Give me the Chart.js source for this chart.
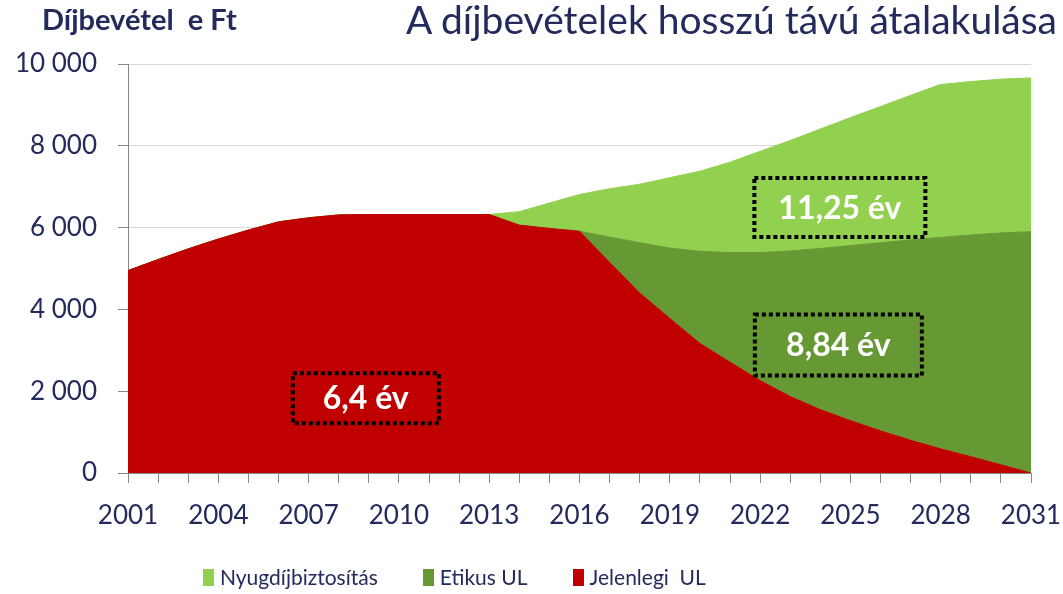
<!DOCTYPE html>
<html lang="hu">
<head>
<meta charset="utf-8">
<title>A díjbevételek hosszú távú átalakulása</title>
<script src="https://cdn.jsdelivr.net/npm/chart.js@4.4.1/dist/chart.umd.min.js"></script>
<style>
  body { margin: 0; background: #fff; font-family: Lato, sans-serif; color: #232a5c; }
  #wrap { position: relative; width: 1063px; height: 594px; }
  #unit { position: absolute; left: 42px; top: 1px; font-weight: bold; font-size: 29px; white-space: pre; }
  #title { position: absolute; right: 6px; top: -4px; font-size: 39px; white-space: nowrap; }
  #legend { position: absolute; left: 203px; top: 565px; display: flex; gap: 45px; font-size: 21px; line-height: 24px; }
  .item { display: flex; align-items: center; white-space: pre; }
  .key { width: 11px; height: 17px; margin-right: 6px; }
</style>
</head>
<body>
<div id="wrap">
  <canvas id="feeChart"></canvas>
  <div id="unit">Díjbevétel  e Ft</div>
  <div id="title">A díjbevételek hosszú távú átalakulása</div>
  <div id="legend"></div>
</div>
<script>
// data (e Ft)
const years = ['2001', '2002', '2003', '2004', '2005', '2006', '2007', '2008', '2009', '2010',
  '2011', '2012', '2013', '2014', '2015', '2016', '2017', '2018', '2019', '2020',
  '2021', '2022', '2023', '2024', '2025', '2026', '2027', '2028', '2029', '2030', '2031'];
const jelenlegi = [4950, 5220, 5480, 5720, 5940, 6140, 6240, 6310, 6320, 6320,
  6320, 6320, 6320, 6060, 5980, 5910, 5150, 4400, 3780, 3170,
  2710, 2260, 1870, 1550, 1280, 1030, 800, 590, 400, 200, 0];
const etikus = [0, 0, 0, 0, 0, 0, 0, 0, 0, 0,
  0, 0, 0, 0, 0, 0, 620, 1230, 1720, 2250,
  2680, 3130, 3560, 3940, 4280, 4600, 4900, 5170, 5420, 5670, 5900];
const nyugdij = [0, 0, 0, 0, 0, 0, 0, 0, 0, 0,
  0, 0, 0, 330, 620, 900, 1180, 1430, 1720, 1960,
  2210, 2475, 2700, 2920, 3130, 3330, 3535, 3740, 3750, 3760, 3760];
const yTicks = [0, 2000, 4000, 6000, 8000, 10000];

// the dotted boxes with the durations
const noteTexts = ['6,4 év', '11,25 év', '8,84 év'];
const noteYears = [2008.9, 2024.65, 2024.6];
const noteValues = [1830, 6490, 3130];

const navy = '#232a5c';
const axisGray = '#868686';

const noteSizes = [[146, 50], [171, 59], [167, 61]];
const notesPlugin = {
  id: 'notes',
  afterDatasetsDraw(chart) {
    const { ctx, scales: { x, y } } = chart;
    ctx.save();
    noteTexts.forEach((t, i) => {
      const cx = x.getPixelForValue(noteYears[i] - 2001);
      const cy = y.getPixelForValue(noteValues[i]);
      const [w, h] = noteSizes[i];
      ctx.setLineDash([4, 3]);
      ctx.lineWidth = 4;
      ctx.strokeStyle = '#000';
      ctx.strokeRect(cx - w / 2, cy - h / 2, w, h);
      ctx.setLineDash([]);
      ctx.fillStyle = '#fff';
      ctx.font = 'bold 32px Lato';
      ctx.textAlign = 'center';
      ctx.textBaseline = 'middle';
      ctx.fillText(t, cx, cy + 1);
    });
    ctx.restore();
  }
};

const spaced = v => String(v).replace(/\B(?=(\d{3})+(?!\d))/g, ' ');

const ctx = document.getElementById('feeChart').getContext('2d');
const feeChart = new Chart(ctx, {
  type: 'line',
  data: {
    labels: years,
    datasets: [
      { label: 'Jelenlegi  UL', data: jelenlegi, backgroundColor: '#c00000', borderColor: '#c00000', fill: 'origin' },
      { label: 'Etikus UL', data: etikus, backgroundColor: '#669933', borderColor: '#669933', fill: '-1' },
      { label: 'Nyugdíjbiztosítás', data: nyugdij, backgroundColor: '#92d050', borderColor: '#92d050', fill: '-1' }
    ]
  },
  options: {
    responsive: true,
    maintainAspectRatio: false,
    animation: false,
    layout: { padding: { top: 64, right: 32, left: 0, bottom: 0 } },
    elements: {
      line: { borderWidth: 1, tension: 0 },
      point: { radius: 0, hoverRadius: 0 }
    },
    scales: {
      x: {
        // fixed height, and let the last label hang into the right margin
        afterFit: s => { s.height = 121; s.paddingRight = 30; },
        grid: { drawOnChartArea: false, tickLength: 10, tickColor: axisGray },
        border: { color: axisGray },
        ticks: {
          autoSkip: false, maxRotation: 0, padding: 17,
          color: navy, font: { family: 'Lato', size: 26 },
          callback: (v, i) => (i % 3 === 0 ? years[i] : '')
        }
      },
      y: {
        stacked: true,
        min: 0, max: 10000,
        afterFit: s => { s.width = 128; },
        afterBuildTicks: s => { s.ticks = yTicks.map(v => ({ value: v })); },
        grid: { color: '#d9d9d9', tickLength: 10, tickColor: axisGray },
        border: { color: axisGray },
        ticks: {
          padding: 21,
          color: navy, font: { family: 'Lato', size: 26 },
          callback: v => spaced(v)
        }
      }
    },
    plugins: {
      legend: { display: false },
      tooltip: { enabled: false }
    }
  },
  plugins: [notesPlugin]
});

// legend below the chart, top series first like in the picture
const legendBox = document.getElementById('legend');
feeChart.data.datasets.slice().reverse().forEach(ds => {
  const item = document.createElement('div');
  item.className = 'item';
  item.innerHTML = '<span class="key" style="background:' + ds.backgroundColor + '"></span>' + ds.label;
  legendBox.appendChild(item);
});
</script>
</body>
</html>
